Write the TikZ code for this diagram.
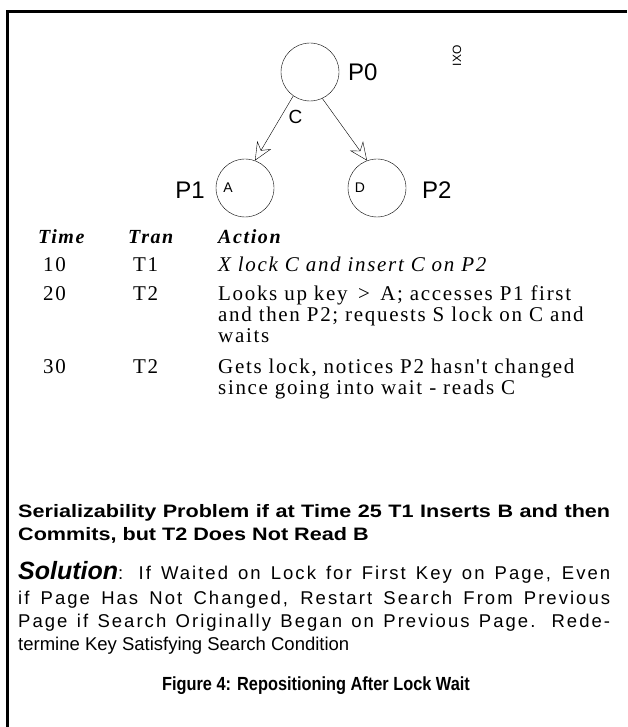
\documentclass[tikz,border=0pt]{standalone}
\usepackage{fontspec}
\setmainfont{Liberation Serif}
\newfontfamily\tms[LetterSpace=8]{Liberation Serif}
\newfontfamily\hv{Liberation Sans}
\newfontfamily\hvls[LetterSpace=11]{Liberation Sans}
\newfontfamily\hvw[FakeStretch=1.2]{Liberation Sans}
\newfontfamily\hvn[FakeStretch=0.86]{Liberation Sans}
\usetikzlibrary{arrows.meta}
\tikzset{
  page/.style={circle,draw,thin,minimum size=58pt,inner sep=0pt},
  plabel/.style={font=\hv\fontsize{24}{28}\selectfont,inner sep=0pt},
  klabel/.style={font=\hv\fontsize{14}{16}\selectfont,inner sep=0pt},
  ptr/.style={thin,-{Stealth[open,length=18pt,width=16pt,inset=6pt]}},
  tab/.style={font=\tms\fontsize{21}{21}\selectfont,anchor=base west,inner sep=0pt},
  tabh/.style={font=\tms\bfseries\itshape\fontsize{20}{21}\selectfont,anchor=base west,inner sep=0pt},
  bsans/.style={font=\hvw\bfseries\fontsize{18}{22}\selectfont,anchor=base west,inner sep=0pt},
  capsans/.style={font=\hvn\bfseries\fontsize{19}{22}\selectfont,anchor=base,inner sep=0pt},
  rsans/.style={font=\hv\fontsize{18.5}{20}\selectfont,anchor=base west,inner sep=0pt},
  lsans/.style={font=\hvls\fontsize{18.5}{20}\selectfont,anchor=base west,inner sep=0pt},
}
\begin{document}
\begin{tikzpicture}[x=1pt,y=-1pt]
\useasboundingbox (0,0) rectangle (627,727);
% frame (top and left only)
\draw[line width=3pt] (627,12) -- (7,12) -- (7,727);
% tree
\node[page] (p0) at (310,72) {};
\node[plabel,anchor=west] (p0l) at (348,72) {P0};
\node[font=\hv\fontsize{12}{14}\selectfont,rotate=90,inner sep=0pt] (ixo) at (457,56) {IXO};
\node[page] (p1) at (245,188) {};
\node[page] (p2) at (377,188) {};
\node[klabel] (ka) at (228,188) {A};
\node[klabel] (kd) at (360,188) {D};
\node[plabel,anchor=east] (p1l) at (205,190) {P1};
\node[plabel,anchor=west] (p2l) at (422,190) {P2};
\draw[ptr] (p0.-125) -- (p1.70) node[pos=0.32,right=4pt,font=\hv\fontsize{19}{20}\selectfont] (c) {C};
\draw[ptr] (p0.-65) -- (p2.110);
% table
\node[tabh] (h1) at (38,243) {Time};
\node[tabh] (h2) at (128,243) {Tran};
\node[tabh] (h3) at (218,243) {Action};
\node[tab] (t10) at (43,271) {10};
\node[tab] (r10) at (133,271) {T1};
\node[tab,font=\tms\itshape\fontsize{21}{21}\selectfont] (a10) at (218,271) {X lock C and insert C on P2};
\node[tab] (t20) at (43,300) {20};
\node[tab] (r20) at (133,300) {T2};
\node[tab] (a20a) at (218,300) {Looks up key \,>\, A; accesses P1 first};
\node[tab] (a20b) at (218,321) {and then P2; requests S lock on C and};
\node[tab] (a20c) at (218,342) {waits};
\node[tab] (t30) at (43,373) {30};
\node[tab] (r30) at (133,373) {T2};
\node[tab] (a30a) at (218,373) {Gets lock, notices P2 hasn't changed};
\node[tab] (a30b) at (218,394) {since going into wait - reads C};
% problem
\node[bsans] (s1) at (18,517) {\makebox[592pt][s]{Serializability Problem if at Time 25 T1 Inserts B and then}};
\node[bsans] (s2) at (18,540) {Commits, but T2 Does Not Read B};
% solution
\node[lsans] (o1) at (18,579) {\makebox[592pt][s]{{\hv\fontsize{25}{26}\selectfont\bfseries\itshape Solution}: If Waited on Lock for First Key on Page, Even}};
\node[lsans] (o2) at (18,604) {\makebox[592pt][s]{if Page Has Not Changed, Restart Search From Previous}};
\node[lsans] (o3) at (18,627) {\makebox[592pt][s]{Page if Search Originally Began on Previous Page. Rede-}};
\node[rsans] (o4) at (18,650) {termine Key Satisfying Search Condition};
% caption
\node[capsans] (cap) at (316,690) {Figure 4: Repositioning After Lock Wait};
\end{tikzpicture}
\end{document}
